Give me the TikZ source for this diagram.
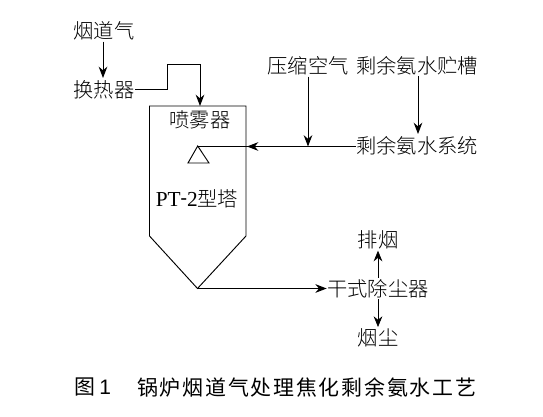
\documentclass[tikz,border=0pt]{standalone}
\usepackage{fontspec}
\setmainfont{Liberation Serif}
\newfontfamily\cjk{Noto Sans CJK SC Light}
\newfontfamily\cjkcap[LetterSpace=8.5]{Noto Sans CJK SC}
\newfontfamily\capsans{Liberation Sans}
\usetikzlibrary{arrows.meta,calc}
\tikzset{
  lbl/.style={inner sep=0pt,outer sep=0.5pt,minimum height=20*0.75pt,font=\fontsize{15.2pt}{16pt}\cjk},
  ln/.style={draw=black,line width=0.75pt},
  arr/.style={ln,-{Stealth[length=8.5pt,width=6.5pt]}},
  thinarr/.style={draw=black,line width=0.5pt,-{Stealth[length=8pt,width=6.5pt]}},
}
\begin{document}
\begin{tikzpicture}[x=0.75pt,y=-0.75pt]
\useasboundingbox[fill=white] (0,0) rectangle (543,417);
% labels
\node[lbl] (flue) at (104,31) {烟道气};
\node[lbl] (hx) at (104,90) {换热器};
\node[lbl] (spray) at (200,120) {喷雾器};
\node[lbl] (air) at (308,66) {压缩空气};
\node[lbl] (tank) at (417,66) {剩余氨水贮槽};
\node[lbl] (sys) at (417,146) {剩余氨水系统};
\node[lbl] (tower) at (197,199) {{\rmfamily\fontsize{16pt}{16pt}\selectfont PT{\raisebox{1.5pt}{\scalebox{0.9}[1]{-}}}2}型塔};
\node[lbl] (dry) at (378,288.5) {干式除尘器};
\node[lbl] (exh) at (378,240) {排烟};
\node[lbl] (dust) at (378,338) {烟尘};
\node[inner sep=0pt,anchor=west,font=\fontsize{15.7pt}{17pt}\cjkcap] (capa) at (74,387) {图};
\node[inner sep=0pt,anchor=west,font=\fontsize{15.7pt}{17pt}\capsans] (capb) at (99,387) {1};
\node[inner sep=0pt,anchor=west,font=\fontsize{15.7pt}{17pt}\cjkcap] (capc) at (137,387) {锅炉烟道气处理焦化剩余氨水工艺};
% tower
\coordinate (tl) at (149.5,106);
\coordinate (tr) at (246,106);
\coordinate (sl) at (149.5,236);
\coordinate (sr) at (246,236);
\coordinate (apex) at (197.5,288.5);
\draw[draw=black,line width=0.7pt] (sl) -- (tl) -- (tr) -- (sr) -- (apex) -- cycle;
% nozzle
\coordinate (noz) at (197.7,146);
\draw[draw=black,line width=0.7pt] (noz) -- (188,163) -- (209,163) -- cycle;
% connectors
\coordinate (c1) at (167,89.5);
\coordinate (c2) at (167,65);
\coordinate (c3) at (200,65);
\coordinate (c4) at (200,106);
\draw[arr] (flue.south -| 103,0) -- (103,78);
\draw[arr] (hx.east |- c1) -- (c1) -- (c2) -- (c3) -- (c4);
\coordinate (j1) at (308,146.5);
\coordinate (mid) at (247,146.5);
\draw[ln] (sys.west |- j1) -- (noz |- j1);
\draw[arr] (j1) -- (mid);
\draw[arr] (air.south) -- (j1);
\draw[arr] (418,76) -- (418,134);
\draw[arr] (apex) -- (dry.west);
\draw[thinarr] (dry.north) -- (exh.south);
\draw[thinarr] (dry.south) -- (dust.south |- 0,327);
\end{tikzpicture}
\end{document}
